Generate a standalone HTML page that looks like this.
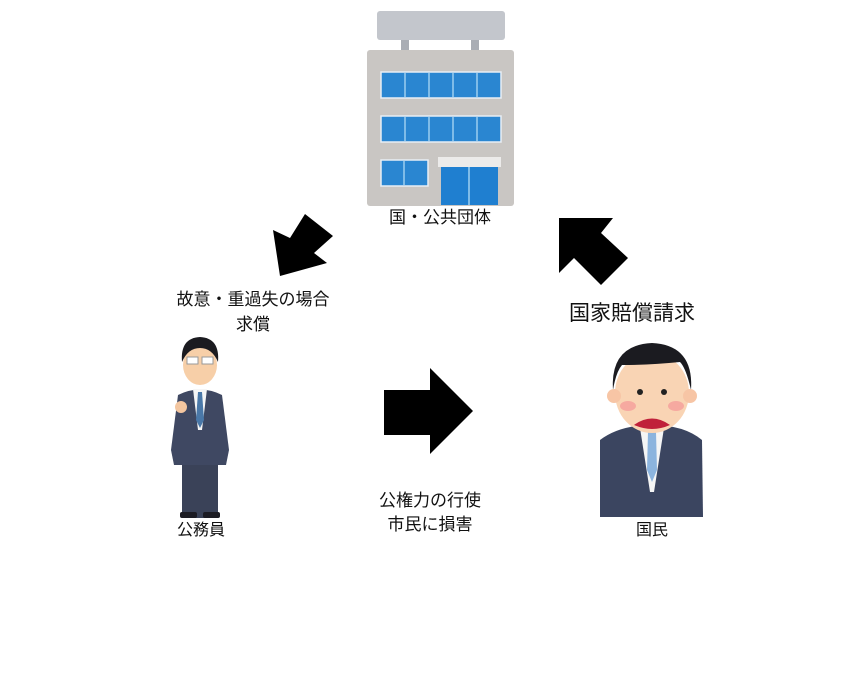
<!DOCTYPE html>
<html><head><meta charset="utf-8"><style>
html,body{margin:0;padding:0;background:#fff;}
svg{display:block;}
text{font-family:"Liberation Sans","Noto Sans CJK JP",sans-serif;fill:#111;}
</style></head><body>
<svg width="865" height="675" viewBox="0 0 865 675" xmlns="http://www.w3.org/2000/svg">
<rect width="865" height="675" fill="#fff"/>
<!-- building -->
<rect x="377" y="11" width="128" height="29" rx="3" fill="#c3c6cc"/>
<rect x="401" y="40" width="8" height="11" fill="#a9adb4"/>
<rect x="471" y="40" width="8" height="11" fill="#a9adb4"/>
<rect x="367" y="50" width="147" height="156" rx="3" fill="#c9c6c3"/>
<g fill="#2a86d1" stroke="#e8eef5" stroke-width="1.5">
<rect x="381" y="72" width="120" height="26"/>
<rect x="381" y="116" width="120" height="26"/>
<rect x="381" y="160" width="47" height="26"/>
</g>
<g stroke="#7fbce8" stroke-width="2">
<line x1="405" y1="73" x2="405" y2="97"/><line x1="429" y1="73" x2="429" y2="97"/><line x1="453" y1="73" x2="453" y2="97"/><line x1="477" y1="73" x2="477" y2="97"/>
<line x1="405" y1="117" x2="405" y2="141"/><line x1="429" y1="117" x2="429" y2="141"/><line x1="453" y1="117" x2="453" y2="141"/><line x1="477" y1="117" x2="477" y2="141"/>
<line x1="404" y1="161" x2="404" y2="185"/>
</g>
<rect x="438" y="157" width="63" height="10" fill="#ecebea"/>
<rect x="441" y="167" width="57" height="38" fill="#1f7fd0"/>
<line x1="469" y1="167" x2="469" y2="205" stroke="#7fbce8" stroke-width="2"/>
<text x="440" y="223" font-size="17" text-anchor="middle">国・公共団体</text>
<!-- arrows -->
<polygon points="305,214 333,236 314,253 327,263 280,276 273,230 290,238" fill="#000"/>
<polygon points="559,218 613,218 601,233 628,258 601,285 574,258 559,273" fill="#000"/>
<polygon points="384,390 430,390 430,368 473,411 430,454 430,435 384,435" fill="#000"/>
<!-- texts -->
<text x="253" y="305" font-size="17" text-anchor="middle">故意・重過失の場合</text>
<text x="253" y="330" font-size="17" text-anchor="middle">求償</text>
<text x="632" y="320" font-size="21" text-anchor="middle">国家賠償請求</text>
<text x="430" y="506" font-size="17" text-anchor="middle">公権力の行使</text>
<text x="430" y="530" font-size="17" text-anchor="middle">市民に損害</text>
<text x="201" y="535" font-size="16" text-anchor="middle">公務員</text>
<text x="652" y="535" font-size="16" text-anchor="middle">国民</text>
<!-- civil servant -->
<g>
<rect x="182" y="460" width="36" height="58" fill="#3a4258"/>
<rect x="180" y="512" width="17" height="6" rx="2" fill="#1c1c24"/>
<rect x="203" y="512" width="17" height="6" rx="2" fill="#1c1c24"/>
<path d="M178,395 Q200,384 222,395 L229,450 L226,465 L174,465 L171,450 Z" fill="#3f4862"/>
<polygon points="193,389 207,389 202,430 198,430" fill="#f5f5f5"/>
<polygon points="198,392 202,392 204,420 200,428 196,420" fill="#4a78a8"/>
<ellipse cx="200" cy="365" rx="17" ry="20" fill="#f7cfa8"/>
<path d="M182,362 Q180,338 200,337 Q220,338 218,362 Q212,348 200,348 Q188,348 182,362 Z" fill="#1b1b20"/>
<rect x="187" y="357" width="11" height="7" fill="#fff" stroke="#999"/>
<rect x="202" y="357" width="11" height="7" fill="#fff" stroke="#999"/>
<circle cx="181" cy="407" r="6" fill="#f3c6a0"/>
</g>
<!-- citizen -->
<g>
<path d="M600,440 Q620,425 652,425 Q684,425 702,440 L703,517 L600,517 Z" fill="#3b4560"/>
<polygon points="640,428 664,428 654,492 650,492" fill="#f5f5f5"/>
<polygon points="648,432 656,432 657,470 652,482 647,470" fill="#8cb4de"/>
<ellipse cx="652" cy="393" rx="37" ry="40" fill="#f9d4b4"/>
<path d="M613,390 Q610,345 652,343 Q694,345 691,390 Q686,368 680,362 Q650,365 622,365 Q616,372 613,390 Z" fill="#1b1b20"/>
<circle cx="614" cy="396" r="7" fill="#f7c5a5"/>
<circle cx="690" cy="396" r="7" fill="#f7c5a5"/>
<ellipse cx="628" cy="406" rx="8" ry="5" fill="#f6a9a0"/>
<ellipse cx="676" cy="406" rx="8" ry="5" fill="#f6a9a0"/>
<circle cx="640" cy="392" r="3" fill="#222"/>
<circle cx="664" cy="392" r="3" fill="#222"/>
<path d="M634,425 Q652,412 670,425 Q652,433 634,425 Z" fill="#c0203a"/>
</g>
</svg>
</body></html>
